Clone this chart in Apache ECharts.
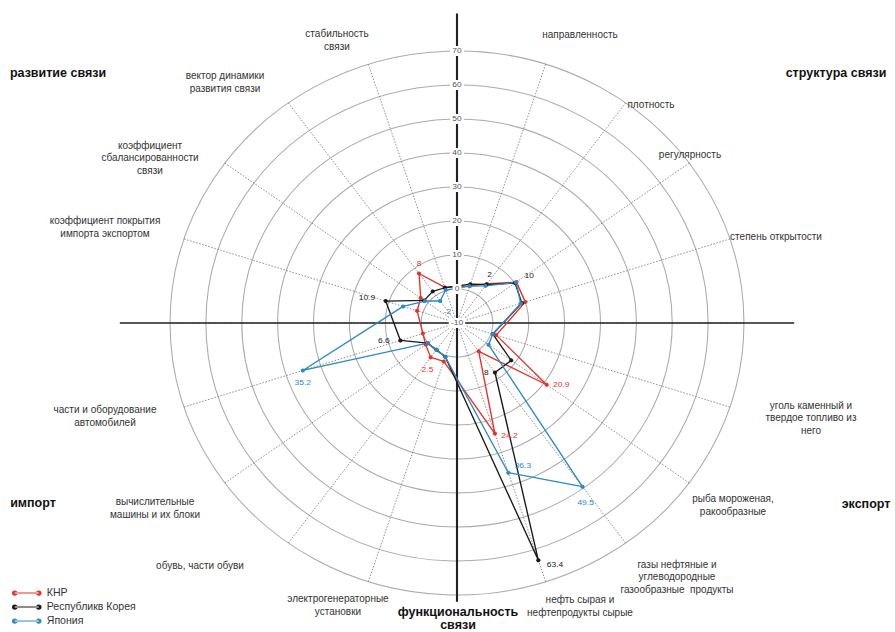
<!DOCTYPE html>
<html><head><meta charset="utf-8">
<script src="https://cdn.jsdelivr.net/npm/echarts@6/dist/echarts.min.js"></script>
<style>html,body{margin:0;padding:0;background:#fff;overflow:hidden}
#c{width:895px;height:632px;transform-origin:457px 0;transform:scaleX(1.055)}</style>
</head><body><div id="c"></div>
<script>
// ---- data ----
const categories = ['', 'направленность', 'плотность', 'регулярность', 'степень открытости', '',
  'уголь каменный и\nтвердое топливо из\nнего', 'рыба мороженая,\nракообразные',
  'газы нефтяные и\nуглеводородные\nгазообразные  продукты', 'нефть сырая и\nнефтепродукты сырые', '',
  'электрогенераторные\nустановки', 'обувь, части обуви', 'вычислительные\nмашины и их блоки',
  'части и оборудование\nавтомобилей', '', 'коэффициент покрытия\nимпорта экспортом',
  'коэффициент\nсбалансированности\nсвязи', 'вектор динамики\nразвития связи', 'стабильность\nсвязи'];
const seriesNames = ['КНР', 'Республикв Корея', 'Япония'];
const khp   = [null, 1.4, 4.2, 10.5, 10, null, 1.5, 20.9, 0.3, 24.2, null, 1.9, 2.5, 0.8, 0, null, 1.7, 2.5, 8, 1];
const korea = [null, 2, 4, 10, 9, null, 0.5, 8.7, 8, 63.4, null, 0.5, -0.3, 0.1, 6.6, null, 10.9, 1.3, 1.5, 0.9];
const japan = [null, 1.4, 3.5, 10.3, 8.7, null, 0.5, 0.9, 49.5, 36.3, null, 0.5, -0.3, 0.1, 35.2, null, 5.8, 1, -2, 0.2];
const radiusMin = -10, radiusMax = 70, radiusStep = 10;
const quadrantTitles = ['развитие связи', 'структура связи', 'импорт', 'экспорт', 'функциональность\nсвязи'];

// ---- styles / layout ----
const colors = ['#e5332a', '#1a1a1a', '#2a8bc6'];
const labelPositions = [
  {18: ['top', [0, 0]], 7: ['right', [0, 0]], 9: ['right', [0, 2]], 12: ['bottom', [-3, 2]]},
  {16: ['left', [-4, -3]], 14: ['left', [-4, 0]], 8: ['left', [0, 0]], 9: ['right', [2, 4]], 1: ['right', [10, -10]], 3: ['right', [3, -7]]},
  {18: ['bottom', [7, 1]], 14: ['bottom', [0, 2]], 9: ['right', [0, -7]], 8: ['bottom', [3, 6]]}
];
const catLabelXY = {1:[580,35],2:[651,105],3:[690,155],4:[776,237],6:[811,418],7:[733,505],8:[677,577],9:[580,606],
  11:[338,605],12:[200,566],13:[155,508],14:[105,416],16:[105,227],17:[150,158],18:[225,82],19:[337,40]};
const titleXY = [[58,73],[836,73],[33,503],[866,504],[458,618]];
const FONT = 'Liberation Sans, Arial, sans-serif';
const K = 1.055;              // horizontal stretch of the page (CSS)
const CX = 457;
const CENTER = [CX, 323], RADIUS = 272;
const fx = x => CX + (x - CX) / K;   // final pixel x -> chart x

const chart = echarts.init(document.getElementById('c'), null, {renderer: 'svg'});
const step = 360 / categories.length;

function buildData(vals, lp) {
  const pts = [];
  vals.forEach((v, i) => {
    if (v === null) return;
    const item = {value: [v, i * step]};
    if (lp[i]) item.label = {show: true, position: lp[i][0], offset: lp[i][1]};
    pts.push(item);
  });
  pts.push({value: pts[0].value.slice(), symbol: 'none'});
  return pts;
}
const allVals = [khp, korea, japan];
const series = allVals.map((vals, k) => ({
  name: seriesNames[k], type: 'line', coordinateSystem: 'polar', polarIndex: 0,
  data: buildData(vals, labelPositions[k]),
  symbol: 'circle', symbolSize: 4, showSymbol: true,
  lineStyle: {width: 1.3, color: colors[k]}, itemStyle: {color: colors[k]},
  label: {show: false, fontSize: 8, color: colors[k], fontFamily: FONT, distance: 4,
    formatter: p => p.value[0]},
  z: 3
}));

const graphics = [];
Object.keys(catLabelXY).forEach(i => {
  const p = catLabelXY[i];
  graphics.push({type: 'text', x: fx(p[0]), y: p[1], scaleX: 1 / K, z: 5,
    style: {text: categories[i], align: 'center', verticalAlign: 'middle', fontSize: 10, lineHeight: 12.5,
      fill: '#333', fontFamily: FONT}});
});
quadrantTitles.forEach((t, i) => {
  graphics.push({type: 'text', x: fx(titleXY[i][0]), y: titleXY[i][1], scaleX: 1 / K, z: 5,
    style: {text: t, align: 'center', verticalAlign: 'middle', fontSize: 12.5, lineHeight: 13, fontWeight: 'bold',
      fill: '#111', fontFamily: FONT}});
});

chart.setOption({
  animation: false,
  backgroundColor: '#fff',
  textStyle: {fontFamily: FONT},
  polar: [{center: CENTER, radius: RADIUS}, {center: CENTER, radius: RADIUS}],
  angleAxis: [
    {polarIndex: 0, type: 'value', min: 0, max: 360, interval: step, startAngle: 90, clockwise: true,
      axisLine: {show: false}, axisTick: {show: false}, axisLabel: {show: false},
      splitLine: {show: true, lineStyle: {color: '#777', width: 0.8, type: [1.5, 1.5]}}},
    {polarIndex: 1, type: 'value', min: 0, max: 360, startAngle: 90, show: false}
  ],
  radiusAxis: [
    {polarIndex: 0, type: 'value', min: radiusMin, max: radiusMax, interval: radiusStep,
      axisLine: {show: false}, axisTick: {show: false}, axisLabel: {show: false},
      splitLine: {show: true, lineStyle: {color: '#aaa', width: 1}}},
    {polarIndex: 1, type: 'value', min: radiusMin, max: radiusMax, interval: radiusStep, z: 10,
      axisLine: {show: false}, axisTick: {show: false}, splitLine: {show: false},
      axisLabel: {show: true, align: 'center', verticalAlign: 'middle', margin: 0, fontSize: 8, color: '#555',
        backgroundColor: '#fff', padding: [1, 2]}}
  ],
  legend: {left: fx(12), top: 587, padding: 0, orient: 'vertical', itemGap: 2, itemWidth: 28, itemHeight: 6,
    height: 44,
    icon: 'path://M0,3a3,3 0 1,0 6,0a3,3 0 1,0 -6,0Z M26,3a3,3 0 1,0 6,0a3,3 0 1,0 -6,0Z M3,2.5L29,2.5L29,3.5L3,3.5Z',
    textStyle: {fontSize: 10, color: '#333', lineHeight: 12}, data: seriesNames},
  series: series,
  graphic: graphics
});

// crosshair lines, extended beyond the outer circle (values in radius units)
const crossExt = {up: 81, right: 84, down: 72, left: 84};
const toPx = (r, a) => chart.convertToPixel({polarIndex: 0}, [r, a]);
const pUp = toPx(crossExt.up, 0), pDown = toPx(crossExt.down, 180);
const pRight = toPx(crossExt.right, 90), pLeft = toPx(crossExt.left, 270);
graphics.push({type: 'line', z: 1, shape: {x1: pUp[0], y1: pUp[1], x2: pDown[0], y2: pDown[1]},
  style: {stroke: '#222', lineWidth: 2}});
graphics.push({type: 'line', z: 1, shape: {x1: pLeft[0], y1: pLeft[1], x2: pRight[0], y2: pRight[1]},
  style: {stroke: '#222', lineWidth: 1.6}});
chart.setOption({graphic: graphics});
</script></body></html>
